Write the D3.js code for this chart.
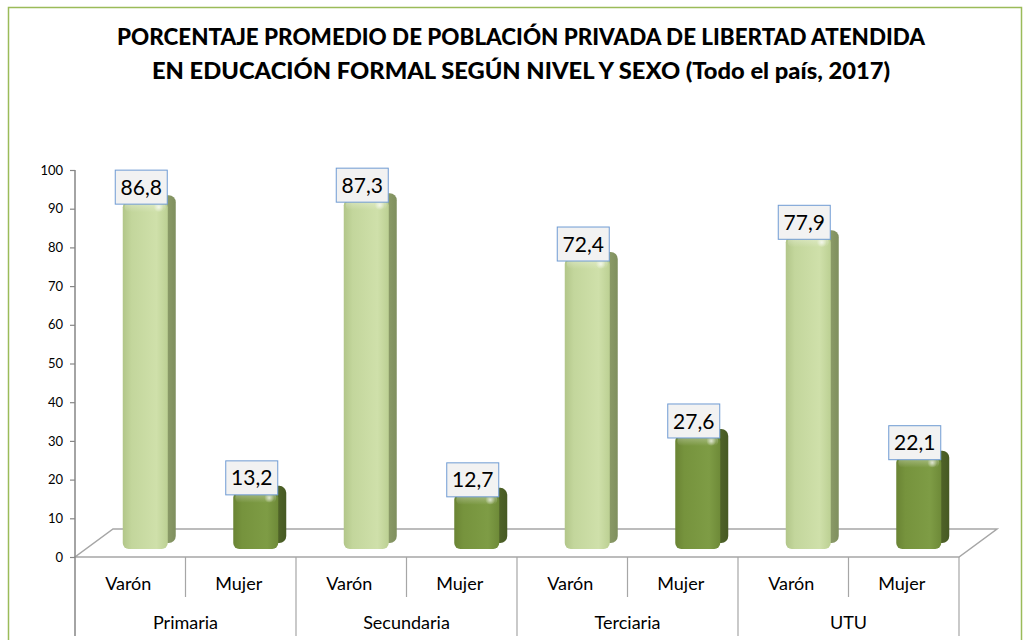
<!DOCTYPE html>
<html>
<head>
<meta charset="utf-8">
<script src="https://cdn.jsdelivr.net/npm/d3@7"></script>
<style>
  html, body { margin: 0; padding: 0; background: #ffffff; }
  svg { display: block; }
</style>
</head>
<body>
<svg id="chart" width="1026" height="640"></svg>
<script>
// Data
const niveles = ["Primaria", "Secundaria", "Terciaria", "UTU"];
const sexos = ["Varón", "Mujer"];
const varon = [86.8, 87.3, 72.4, 77.9];
const mujer = [13.2, 12.7, 27.6, 22.1];
const yTicks = [0, 10, 20, 30, 40, 50, 60, 70, 80, 90, 100];
const titulo = [
  "PORCENTAJE PROMEDIO DE POBLACIÓN PRIVADA DE LIBERTAD ATENDIDA",
  "EN EDUCACIÓN FORMAL SEGÚN NIVEL Y SEXO (Todo el país, 2017)"
];

const rows = [];
niveles.forEach((n, i) => {
  rows.push({ nivel: n, sexo: sexos[0], value: varon[i], key: n + "|" + sexos[0] });
  rows.push({ nivel: n, sexo: sexos[1], value: mujer[i], key: n + "|" + sexos[1] });
});

const svg = d3.select("#chart");
const font = "Lato, 'Open Sans', sans-serif";

// Layout of the 3D plot area
const axisX = 75, axisRight = 959;
const floorFront = 557;
const depthDx = 38, depthDy = -28;
const barShift = 15;     // bars sit halfway into the floor depth
const barW = 45;

const xSub = d3.scaleBand().domain(rows.map(d => d.key)).range([axisX, axisRight]).padding(0);
const xGroup = d3.scaleBand().domain(niveles).range([axisX, axisRight]).padding(0);
const yAxis = d3.scaleLinear().domain([0, 100]).range([floorFront, 170]);
const yBar = d3.scaleLinear().domain([0, 100]).range([544, 149]);

const fmt = d3.formatLocale({ decimal: ",", thousands: ".", grouping: [3], currency: ["", ""] }).format(".1f");

// Chart frame
svg.append("rect")
  .attr("x", 8.5).attr("y", 7.5).attr("width", 1013).attr("height", 660)
  .attr("fill", "#ffffff").attr("stroke", "#9bbb59").attr("stroke-width", 1.5);

// Title
svg.append("g").selectAll("text").data(titulo).join("text")
  .attr("x", 521).attr("y", (d, i) => 45 + i * 34)
  .attr("text-anchor", "middle")
  .attr("font-family", font).attr("font-weight", "900").attr("font-size", 22)
  .attr("fill", "#000")
  .attr("textLength", (d, i) => i === 0 ? 808 : 738)
  .attr("lengthAdjust", "spacingAndGlyphs")
  .text(d => d);

// Gradients
const defs = svg.append("defs");
const palettes = {
  "Varón": { face: ["#b2c689", "#c3d69c", "#cfe0aa", "#bcd093"], back: ["#c9dba3", "#c9dba3", "#8a9a67", "#7f8f5e"] },
  "Mujer": { face: ["#6a8434", "#76933d", "#7e9c45", "#6e8a38"], back: ["#7a9742", "#7a9742", "#4f6328", "#465923"] }
};
sexos.forEach((s, i) => {
  const p = palettes[s];
  const gf = defs.append("linearGradient").attr("id", "face" + i).attr("x1", 0).attr("x2", 1).attr("y1", 0).attr("y2", 0);
  [[0, p.face[0]], [0.2, p.face[1]], [0.75, p.face[2]], [1, p.face[3]]].forEach(([o, c]) =>
    gf.append("stop").attr("offset", o).attr("stop-color", c));
  const gb = defs.append("linearGradient").attr("id", "back" + i).attr("x1", 0).attr("x2", 1).attr("y1", 0).attr("y2", 0);
  [[0, p.back[0]], [0.78, p.back[1]], [0.82, p.back[2]], [1, p.back[3]]].forEach(([o, c]) =>
    gb.append("stop").attr("offset", o).attr("stop-color", c));
});
const shine = defs.append("radialGradient").attr("id", "shine");
shine.append("stop").attr("offset", 0).attr("stop-color", "#ffffff").attr("stop-opacity", 0.7);
shine.append("stop").attr("offset", 1).attr("stop-color", "#ffffff").attr("stop-opacity", 0);
const topShade = defs.append("linearGradient").attr("id", "topShade").attr("x1", 0).attr("x2", 0).attr("y1", 0).attr("y2", 1);
topShade.append("stop").attr("offset", 0).attr("stop-color", "#ffffff").attr("stop-opacity", 0.35);
topShade.append("stop").attr("offset", 1).attr("stop-color", "#ffffff").attr("stop-opacity", 0);

// Floor
const floorBack = floorFront + depthDy;
svg.append("path")
  .attr("d", `M${axisX},${floorFront} L${axisRight},${floorFront} L${axisRight + depthDx},${floorBack} L${axisX + depthDx},${floorBack} Z`)
  .attr("fill", "none").attr("stroke", "#a6a6a6").attr("stroke-width", 1.5);

// Y axis
const gy = svg.append("g").attr("transform", `translate(${axisX},0)`)
  .call(d3.axisLeft(yAxis).tickValues(yTicks).tickSize(5).tickPadding(7).tickFormat(d3.format("d")));
gy.select(".domain").remove();
gy.selectAll(".tick line").attr("stroke", "#868686").attr("stroke-width", 1.2);
gy.selectAll(".tick text").attr("font-family", font).attr("font-size", 13).attr("fill", "#000");
svg.append("line")
  .attr("x1", axisX).attr("x2", axisX).attr("y1", yAxis(100)).attr("y2", 636)
  .attr("stroke", "#868686").attr("stroke-width", 1.5);

// Category axis: sub labels and group labels
const gx = svg.append("g");
const groupEdges = niveles.map(n => xGroup(n)).concat([axisRight]);
gx.selectAll("line.group").data(groupEdges.slice(1)).join("line")
  .attr("class", "group")
  .attr("x1", d => d).attr("x2", d => d).attr("y1", floorFront).attr("y2", 636)
  .attr("stroke", "#a6a6a6").attr("stroke-width", 1.2);
gx.selectAll("line.sub").data(rows.filter(d => d.sexo === sexos[1])).join("line")
  .attr("class", "sub")
  .attr("x1", d => xSub(d.key)).attr("x2", d => xSub(d.key))
  .attr("y1", floorFront).attr("y2", 597)
  .attr("stroke", "#a6a6a6").attr("stroke-width", 1.2);
gx.selectAll("text.sub").data(rows).join("text")
  .attr("class", "sub")
  .attr("x", d => xSub(d.key) + xSub.bandwidth() / 2 - 2)
  .attr("y", 590)
  .attr("text-anchor", "middle")
  .attr("font-family", font).attr("font-size", 18).attr("fill", "#000")
  .text(d => d.sexo);
gx.selectAll("text.group").data(niveles).join("text")
  .attr("class", "group")
  .attr("x", d => xGroup(d) + xGroup.bandwidth() / 2)
  .attr("y", 629)
  .attr("text-anchor", "middle")
  .attr("font-family", font).attr("font-size", 18).attr("fill", "#000")
  .text(d => d);

// Bars
const bars = svg.append("g").selectAll("g.bar").data(rows).join("g").attr("class", "bar");
const faceX = d => xSub(d.key) + xSub.bandwidth() / 2 + barShift - barW / 2;
const barBottom = yBar(0) + 5;
bars.append("rect")
  .attr("x", d => faceX(d) + 8).attr("y", d => yBar(d.value) - 6)
  .attr("width", barW).attr("height", d => barBottom - yBar(d.value))
  .attr("rx", 7).attr("ry", 7)
  .attr("fill", d => `url(#back${sexos.indexOf(d.sexo)})`);
bars.append("rect")
  .attr("x", d => faceX(d)).attr("y", d => yBar(d.value))
  .attr("width", barW).attr("height", d => barBottom - yBar(d.value))
  .attr("rx", 6).attr("ry", 6)
  .attr("fill", d => `url(#face${sexos.indexOf(d.sexo)})`);
bars.append("rect")
  .attr("x", d => faceX(d) + 2).attr("y", d => yBar(d.value) + 1)
  .attr("width", barW - 4).attr("height", 10)
  .attr("rx", 5).attr("fill", "url(#topShade)");
bars.append("circle")
  .attr("cx", d => faceX(d) + barW - 9).attr("cy", d => yBar(d.value) + 6)
  .attr("r", 5).attr("fill", "url(#shine)");

// Value labels
const lblW = 52, lblH = 34;
const labels = svg.append("g").selectAll("g.lbl").data(rows).join("g").attr("class", "lbl")
  .attr("transform", d => `translate(${faceX(d) + barW / 2 - 4},${yBar(d.value) + 3 - lblH / 2})`);
labels.append("rect")
  .attr("x", -lblW / 2).attr("y", -lblH / 2).attr("width", lblW).attr("height", lblH)
  .attr("fill", "#f2f2f2").attr("stroke", "#6f9bd3").attr("stroke-width", 1);
labels.append("text")
  .attr("text-anchor", "middle").attr("dy", "0.36em")
  .attr("font-family", font).attr("font-size", 21).attr("fill", "#000")
  .text(d => fmt(d.value));
</script>
</body>
</html>
